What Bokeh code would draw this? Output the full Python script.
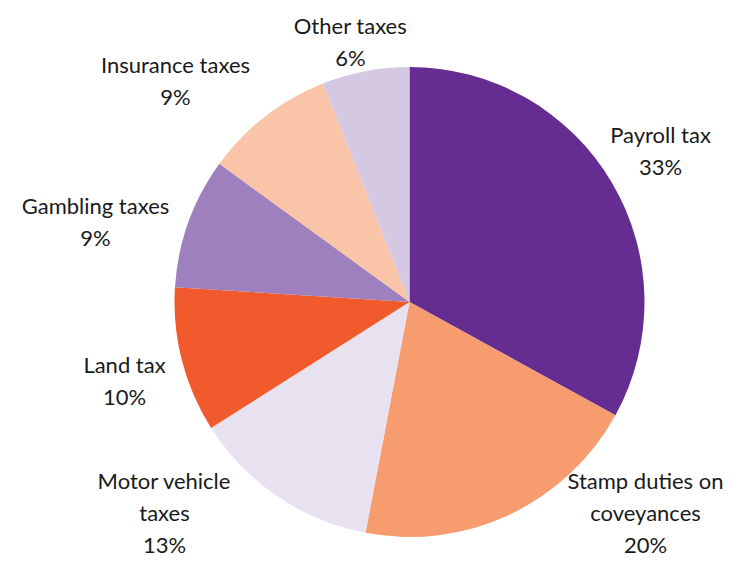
import math
from bokeh.plotting import figure
from bokeh.models import Range1d, ColumnDataSource
from bokeh.core.properties import value
from bokeh.embed import file_html
from bokeh.resources import INLINE

# Data
categories = ["Payroll tax", "Stamp duties on\ncoveyances", "Motor vehicle\ntaxes",
              "Land tax", "Gambling taxes", "Insurance taxes", "Other taxes"]
shares = [33, 20, 13, 10, 9, 9, 6]
colors = ["#652D91", "#F79C6F", "#E8E1F0", "#F15A2C", "#9D80BD", "#F9C4A8", "#D5C8E2"]

# Layout (label block centres, in picture pixels)
label_x = [660, 645, 164, 124, 95, 175, 350]
label_y = [150, 512, 512, 380, 221, 80, 41]

W, H = 725, 565
cx, cy_pic, R = 409, 301.5, 235

def ydata(py):
    return H - py

total = float(sum(shares))
starts, ends = [], []
cum = 0.0
for s in shares:
    a0 = math.pi / 2 - 2 * math.pi * (cum + s) / total
    a1 = math.pi / 2 - 2 * math.pi * cum / total
    starts.append(a0)
    ends.append(a1)
    cum += s

src = ColumnDataSource(dict(start=starts, end=ends, color=colors))

p = figure(width=W, height=H, output_backend="svg", toolbar_location=None,
           x_range=Range1d(0, W), y_range=Range1d(0, H),
           min_border=0, outline_line_color=None)
p.axis.visible = False
p.grid.visible = False
p.background_fill_color = "white"
p.border_fill_color = "white"

p.wedge(x=cx, y=ydata(cy_pic), radius=R, start_angle="start", end_angle="end",
        direction="anticlock", fill_color="color", line_color=None, source=src)

texts = [f"{c}\n{s}%" for c, s in zip(categories, shares)]
lsrc = ColumnDataSource(dict(x=label_x, y=[ydata(v) for v in label_y], t=texts))
p.text(x="x", y="y", text="t", source=lsrc, text_align="center", text_baseline="middle",
       text_font=value("Lato"), text_font_size="22px", text_color="#1a1a1a",
       text_line_height=1.18)

open("out.html", "w").write(file_html(p, INLINE))
